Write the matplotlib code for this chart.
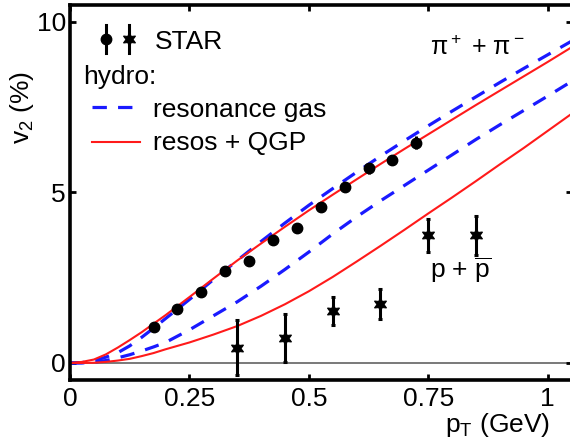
import numpy as np
import matplotlib
matplotlib.use('Agg')
import matplotlib.pyplot as plt

plt.rcParams['font.family'] = ['Liberation Sans', 'DejaVu Sans']
plt.rcParams['mathtext.fontset'] = 'custom'
plt.rcParams['mathtext.rm'] = 'Liberation Sans'
plt.rcParams['mathtext.it'] = 'Liberation Sans:italic'
plt.rcParams['font.size'] = 19

# STAR data: pions (circles) and protons (stars)
pion_pt = [0.175, 0.225, 0.275, 0.325, 0.375, 0.425, 0.475, 0.525, 0.575, 0.625, 0.675, 0.725]
pion_v2 = [1.05, 1.58, 2.08, 2.69, 2.98, 3.6, 3.95, 4.56, 5.15, 5.7, 5.94, 6.46]
pion_err = [0.12, 0.12, 0.12, 0.12, 0.12, 0.12, 0.12, 0.12, 0.12, 0.15, 0.15, 0.18]

proton_pt = [0.35, 0.45, 0.55, 0.65, 0.75, 0.85]
proton_v2 = [0.45, 0.74, 1.52, 1.72, 3.74, 3.74]
proton_err = [0.8, 0.7, 0.42, 0.44, 0.49, 0.57]

# hydro curves
pt_grid = [0.0, 0.025, 0.05, 0.075, 0.1, 0.125, 0.15, 0.175, 0.2, 0.25, 0.3, 0.35, 0.4,
           0.45, 0.5, 0.55, 0.6, 0.65, 0.7, 0.75, 0.8, 0.85, 0.9, 0.95, 1.0, 1.05]
pion_qgp = [0.0, 0.03, 0.1, 0.25, 0.45, 0.67, 0.9, 1.15, 1.4, 1.93, 2.47, 3.0, 3.5,
            3.99, 4.47, 4.93, 5.38, 5.83, 6.27, 6.7, 7.13, 7.56, 7.98, 8.4, 8.82, 9.25]
pion_rg = [0.0, 0.01, 0.06, 0.17, 0.3, 0.5, 0.75, 1.02, 1.3, 1.86, 2.44, 3.0, 3.56,
           4.1, 4.62, 5.11, 5.59, 6.06, 6.51, 6.95, 7.38, 7.8, 8.22, 8.63, 9.03, 9.43]
proton_rg = [0.0, 0.0, 0.02, 0.07, 0.15, 0.24, 0.35, 0.47, 0.6, 0.97, 1.38, 1.79, 2.25,
             2.74, 3.25, 3.78, 4.28, 4.75, 5.2, 5.65, 6.1, 6.55, 6.98, 7.4, 7.82, 8.25]
proton_qgp = [0.0, 0.0, 0.005, 0.03, 0.07, 0.12, 0.2, 0.29, 0.4, 0.6, 0.83, 1.08, 1.38,
              1.72, 2.1, 2.52, 2.97, 3.43, 3.9, 4.38, 4.85, 5.33, 5.82, 6.3, 6.8, 7.3]

x_ticks = [0, 0.25, 0.5, 0.75, 1]
x_ticklabels = ['0', '0.25', '0.5', '0.75', '1']
y_ticks = [0, 5, 10]

star6 = (6, 1, 0)
blue = '#1a1aff'
red = '#ff1a1a'

fig = plt.figure(figsize=(5.7, 4.47), dpi=100)
ax = fig.add_axes([70 / 570, 67 / 447, 502 / 570, 375 / 447])

ax.axhline(0, color='#555555', lw=1.1, zorder=1)

ax.plot(pt_grid, pion_rg, color=blue, lw=2.3, dashes=(4.5, 3.5))
ax.plot(pt_grid, proton_rg, color=blue, lw=2.3, dashes=(4.5, 3.5))
ax.plot(pt_grid, pion_qgp, color=red, lw=1.5)
ax.plot(pt_grid, proton_qgp, color=red, lw=1.5)

ax.errorbar(pion_pt, pion_v2, yerr=pion_err, fmt='o', color='black',
            ms=7.5, elinewidth=2.2, capsize=0, zorder=5)
ax.errorbar(proton_pt, proton_v2, yerr=proton_err, fmt='none', ecolor='black',
            elinewidth=2.2, capsize=1.2, capthick=2.2, zorder=5)
ax.plot(proton_pt, proton_v2, ls='none', marker=star6, color='black',
        ms=10, mew=0.8, zorder=6)

ax.set_xlim(0.003, 1.051)
ax.set_ylim(-0.5, 10.49)
ax.set_xticks(x_ticks)
ax.set_xticklabels(x_ticklabels)
ax.set_yticks(y_ticks)
ax.tick_params(direction='in', length=4, width=2, top=True, right=True,
               labelsize=19)
ax.tick_params(axis='x', pad=5)
ax.tick_params(axis='y', pad=3)
for s in ax.spines.values():
    s.set_linewidth(2.6)

# legend drawn by hand
tr = ax.transAxes
ax.plot([0.0717, 0.0717], [0.872, 0.947], color='black', lw=2.2, transform=tr, clip_on=False)
ax.plot([0.0717], [0.909], 'o', color='black', ms=7.5, transform=tr, clip_on=False)
ax.plot([0.1185, 0.1185], [0.872, 0.947], color='black', lw=2.2, transform=tr, clip_on=False)
ax.plot([0.1185], [0.909], ls='none', marker=star6, color='black', ms=10, mew=0.8,
        transform=tr, clip_on=False)
ax.text(0.169, 0.882, 'STAR', transform=tr, va='baseline', ha='left')
ax.text(0.026, 0.789, 'hydro:', transform=tr, va='baseline', ha='left')
ax.plot([0.044, 0.139], [0.727, 0.727], color=blue, lw=2.3, dashes=(4.5, 3.5), transform=tr)
ax.text(0.165, 0.702, 'resonance gas', transform=tr, va='baseline', ha='left')
ax.plot([0.044, 0.139], [0.635, 0.635], color=red, lw=1.5, transform=tr)
ax.text(0.165, 0.613, 'resos + QGP', transform=tr, va='baseline', ha='left')

ax.text(0.717, 0.867, r'$\mathregular{\pi^+}$ + $\mathregular{\pi^-}$', transform=tr,
        va='baseline', ha='left', fontsize=18)
ax.text(0.717, 0.272, r'p + $\mathregular{\overline{p}}$', transform=tr, va='baseline', ha='left')

fig.text(550 / 570, 15 / 447, r'$\mathregular{p_T}$ (GeV)', ha='right', va='baseline')
fig.text(22 / 570, 1 - 107 / 447, r'$\mathregular{v_2}$ (%)', ha='center', va='center', rotation=90)

fig.savefig('out.png', dpi=100)
